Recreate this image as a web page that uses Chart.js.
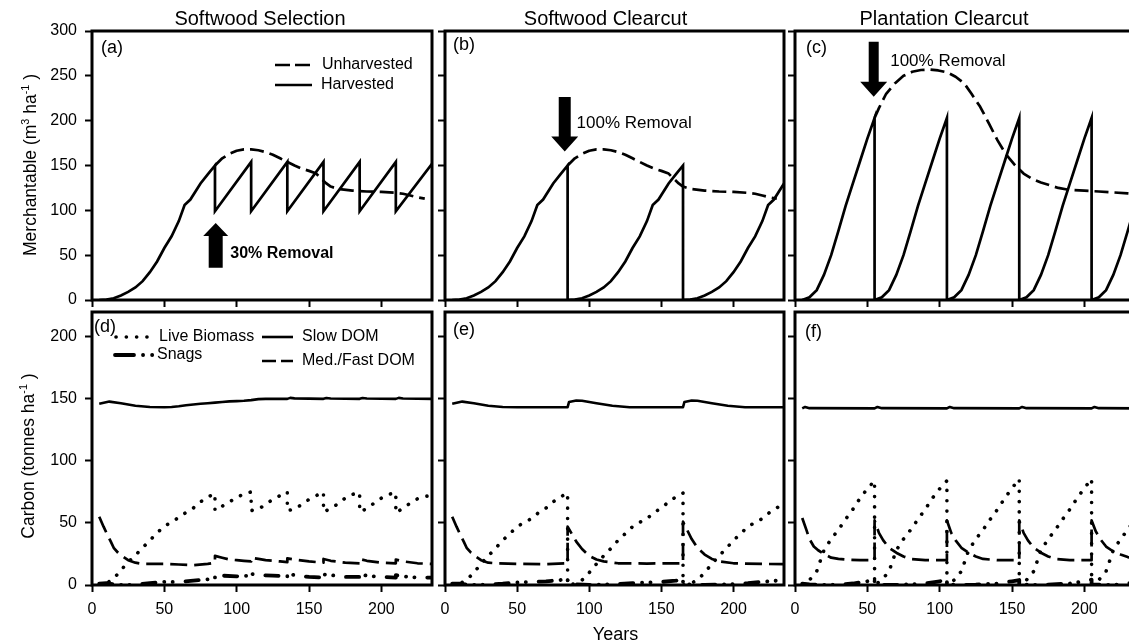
<!DOCTYPE html>
<html><head><meta charset="utf-8"><title>Merchantable volume and carbon by harvest scenario</title>
<script src="https://cdn.jsdelivr.net/npm/chart.js@4.4.0/dist/chart.umd.min.js"></script>
<style>
html,body{margin:0;padding:0;background:#fff;width:1129px;height:642px;overflow:hidden;}
#wrap{position:relative;width:1129px;height:642px;overflow:hidden;background:#fff;}
canvas{position:absolute;left:0;top:0;width:1140px;height:642px;}
</style></head><body><div id="wrap">
<canvas id="cA" width="1140" height="642"></canvas>
<canvas id="cB" width="1140" height="642"></canvas>
<canvas id="cC" width="1140" height="642"></canvas>
<canvas id="cD" width="1140" height="642"></canvas>
<canvas id="cE" width="1140" height="642"></canvas>
<canvas id="cF" width="1140" height="642"></canvas>
</div>
<script>
// ================= DATA =================
const panelTitles = ['Softwood Selection', 'Softwood Clearcut', 'Plantation Clearcut'];
const panelLetters = ['(a)', '(b)', '(c)', '(d)', '(e)', '(f)'];
const xTickYears = [0, 50, 100, 150, 200];
const topYTicks = [0, 50, 100, 150, 200, 250, 300];
const botYTicks = [0, 50, 100, 150, 200];
const yearMax = 235;
const topYMax = 300;
const botYMax = 220;

// --- (a) Softwood selection, merchantable volume ---
const selHarvYears = [5,10,15,20,25,30,35,40,45,50,55,60,64,68,75,80,85, 85,110, 110,135, 135,160, 160,185, 185,210, 210,235];
const selHarvVals  = [0,0.5,2,5,9,14,21,31,43,58,71,88,106,112,130,140,150, 99,154, 99,154, 99,154, 99,154, 99,154, 99,152];

// unharvested softwood (a, b)
const swUnhYears = [85,90,95,100,105,110,115,120,125,130,135,140,145,150,155,158,162,165,170,180,190,200,210,215,220,225,230];
const swUnhVals  = [150,158,163,166.5,168,168,167,165,162,158,154,150,146.5,144,141,136,130,126.5,124,122,121,120.5,119.5,118.5,116.5,114.5,113];

// --- (b) Softwood clearcut ---
const swCutYears = [5,10,15,20,25,30,35,40,45,50,55,60,64,68,75,80,85,
                    85,90,95,100,105,110,115,120,125,130,135,140,144,148,155,160,165,
                    165,170,175,180,185,190,195,200,205,210,215,220,224,228,235];
const swCutVals  = [0,0.5,2,5,9,14,21,31,43,58,71,88,106,112,130,140,150,
                    0,0.5,2,5,9,14,21,31,43,58,71,88,106,112,130,140,150,
                    0,0.5,2,5,9,14,21,31,43,58,71,88,106,112,130];

// --- (c) Plantation clearcut ---
const plCutYears = [5,10,15,20,25,30,35,40,45,50,55,
                    55,60,65,70,75,80,85,90,95,100,105,
                    105,110,115,120,125,130,135,140,145,150,155,
                    155,160,165,170,175,180,185,190,195,200,205,
                    205,210,215,220,225,230,235];
const plCutVals  = [0,3,11,28,50,77,105,130,155,180,203,
                    0,3,11,28,50,77,105,130,155,180,203,
                    0,3,11,28,50,77,105,130,155,180,203,
                    0,3,11,28,50,77,105,130,155,180,203,
                    0,3,11,28,50,77,105];
const plUnhYears = [55,58,63,69,75,81,87,93,99,105,111,117,122,128,134,140,146,152,158,164,170,176,182,189,200,210,220,230,235];
const plUnhVals  = [203,214,230,241.5,250,254.5,256.5,257,256,254,249,241.5,230,215.5,197,178,162,150.5,141,135,131,128,125,123,122,121,120,119,118.5];

// --- (d) Softwood selection, carbon ---
const selLiveYears = [5,10,15,20,25,30,35,40,45,50,55,60,65,70,75,80,85, 85,90,95,100,105,110, 110,115,120,125,130,135, 135,140,145,150,155,160, 160,165,170,175,180,185, 185,190,195,200,205,210, 210,215,220,225,230,235];
const selLiveVals  = [0,1.5,5,12,18.5,24,30,36,42,47.5,50.5,54.5,58.5,62,67,71,73.5, 60,63.5,67,70.5,73.5,75, 60,61,65,69,72,75, 60,61,65,69,72,75, 59,61.5,65.5,70,73,74.5, 59,61.5,66,70,73,74.5, 58,62,66,69.5,71.5,72];
const selSlowYears = [5,12,20,30,40,50,55,60,65,70,75,80,85,90,95,100,105,110,115,120,135,137,140,160,162,165,185,187,190,210,212,215,235];
const selSlowVals  = [146,147.8,146.5,144.5,143.5,143.2,143.5,144,144.8,145.5,146,146.5,147,147.5,148,148.2,148.5,149,149.8,150,150,150.8,150.4,150,150.7,150.3,150,150.7,150.3,150,150.8,150.3,150];
const selFastYears = [5,8,10,13,15,18,20,25,30,35,40,50,60,70,80,85, 85,90,95,100,105,110, 110,115,120,130,135, 135,140,150,160, 160,165,175,185, 185,190,200,210, 210,215,225,235];
const selFastVals  = [55,47,42,35,30,26,24,20,18,17,17,17,16.5,16,17,18, 23.5,22,20.5,20,19.5,19, 22,21,20,19,18.5, 21.5,20.5,19,18, 21,19.5,18,17.5, 21,19.5,18,17.5, 20.5,19,17.5,17];
const selSnagYears = [5,10,15,20,30,40,50,60,70,80,85, 85,90,100,110, 110,115,125,135, 135,140,150,160, 160,165,175,185, 185,190,200,210, 210,215,225,235];
const selSnagVals  = [1,1.5,0.5,0,0.3,1.5,2.5,2.5,3.5,4.5,5.5, 9,7.5,7,7.5, 9,8,7.5,7, 9,8,6.5,6, 8.5,8,6.5,6.5, 8.5,7.5,6.5,6, 8,7,6,6];

// --- (e) Softwood clearcut, carbon ---
const cfLiveYears = [5,10,15,20,25,30,35,40,45,50,55,60,65,70,75,80,85,
                     85,90,95,100,105,110,115,120,125,130,135,140,145,150,155,160,165,
                     165,170,175,180,185,190,195,200,205,210,215,220,225,230,235];
const cfLiveVals  = [0,1,4,10,17,23.5,29.5,36,41.5,47,50.5,53.5,58.5,62,67,71,74,
                     0,1,4,10,17,23.5,29.5,36,41.5,47,50.5,53.5,58.5,62,67,71,74,
                     0,1,4,10,17,23.5,29.5,36,41.5,47,50.5,53.5,58.5,62,67];
const cfSlowYears = [5,12,20,30,40,50,85, 86,91,95,105,116,128,165, 166,171,175,185,196,208,235];
const cfSlowVals  = [146,147.8,146.5,144.5,143.5,143.3,143.3, 147.5,148.7,148.5,146.5,144.4,143.3,143.3, 147.5,148.7,148.5,146.5,144.4,143.3,143.3];
const cfFastYears = [5,8,10,13,15,18,20,25,30,35,50,70,85, 85,88,91,95,100,105,110,120,140,165, 165,168,171,175,180,185,190,200,220,235];
const cfFastVals  = [55,47,42,35,30,26,24,20,18,17.5,17,16.8,17.5, 47,41,35,29,23.5,20.5,19,17.5,17.3,17.5, 51,44,37,30,24.5,21,19,17.5,17,16.8];
const cfSnagYears = [5,10,15,20,30,40,50,60,70,80,85, 85,90,100,110,120,130,140,150,160,165, 165,170,180,190,200,210,220,235];
const cfSnagVals  = [1,1,0.5,0,0.3,1,2,2.5,3,4,5, 1,0.5,0,0.3,0.8,1.5,2,2.5,3.5,4.5, 1,0.5,0,0.3,0.8,1.5,2.5,4];

// --- (f) Plantation clearcut, carbon ---
const plLiveYears = [5,10,15,20,25,30,35,40,45,50,55,
                     55,60,65,70,75,80,85,90,95,100,105,
                     105,110,115,120,125,130,135,140,145,150,155,
                     155,160,165,170,175,180,185,190,195,200,205,
                     205,210,215,220,225,230,235];
const plLiveVals  = [0,4,11,28,37,44.5,53,61,70,77.5,84,
                     0,4,11,28,37,44.5,53,61,70,77.5,84,
                     0,4,11,28,37,44.5,53,61,70,78,85.5,
                     0,4,11,28,37,44.5,53,61,70,78,85.5,
                     0,4,11,28,37,44.5,53];
const plSlowYears = [5,7,10,55,57,60,105,107,110,155,157,160,205,207,210,235];
const plSlowVals  = [142.3,143.5,142.5,142.3,143.5,142.5,142.3,143.5,142.5,142.3,143.5,142.5,142.3,143.5,142.5,142.3];
const plFastYears = [5,8,10,13,16,20,25,30,35,45,55, 55,58,61,65,70,75,80,90,105, 105,108,111,115,120,125,130,140,155, 155,158,161,165,170,175,180,190,205, 205,208,211,215,220,225,230,235];
const plFastVals  = [54,44,37,31,28,25,22,21,20.5,20,20, 52,42,36,30,26,23,21,20,20, 52,42,36,30,26,23,21,20,20, 52,42,36,30,26,23,21,20,20, 52,43,37,31,27,24.5,22.5,21.5];
const plSnagYears = [5,10,20,30,40,50,55, 55,65,75,90,100,105, 105,115,125,140,150,155, 155,165,175,190,200,205, 205,215,225,235];
const plSnagVals  = [1,0.5,0,0.3,1.2,3,4, 0.5,0,0.3,1.2,3,4, 0.5,0,0.3,1.2,3,4, 0.5,0,0.3,1.2,3,4.3, 0.5,0,0.5,2];

// annotations (data units): harvest arrow year, tip value, tail value; label year & value
const arrowYears = [85.5, 83, 54.4];
const arrowTips  = [86, 165.5, 226.7];
const arrowTails = [36, 226.5, 288];
const removalTexts = ['30% Removal', '100% Removal', '100% Removal'];
const removalTextYears = [95.6, 91.2, 65.8];
const removalTextVals  = [52, 197, 265.8];

// ================= STYLE / LAYOUT =================
const FONT = "'Liberation Sans', Arial, Helvetica, sans-serif";
const ST = {
  solid:    {w: 2.7, dash: [], cap: 'butt', join: 'miter'},
  dashTop:  {w: 2.7, dash: [14, 6], cap: 'butt', join: 'round'},
  dotted:   {w: 3.6, dash: [0.1, 10.2], cap: 'round', join: 'round'},
  longDash: {w: 2.7, dash: [17, 7], cap: 'butt', join: 'round'},
  dashDot:  {w: 3.8, dash: [13.2, 8.8, 0.1, 8.3, 0.1, 12.8], cap: 'round', join: 'round'},
  solidC:   {w: 2.6, dash: [], cap: 'butt', join: 'round'}
};
const CW = 1140, CH = 642, XH = 50;
const AREAS = {
  A: {left: 92, top: 31, right: 432, bottom: 300},
  B: {left: 445, top: 31, right: 784, bottom: 300},
  C: {left: 795, top: 31, right: 1135, bottom: 300},
  D: {left: 92, top: 312, right: 432, bottom: 585},
  E: {left: 445, top: 312, right: 784, bottom: 585},
  F: {left: 795, top: 312, right: 1135, bottom: 585}
};

function pts(xs, ys) { return xs.map((x, i) => ({x: x, y: ys[i]})); }
function ds(xs, ys, s) {
  return {data: pts(xs, ys), borderColor: '#000', backgroundColor: '#000', borderWidth: s.w,
          borderDash: s.dash, borderCapStyle: s.cap, borderJoinStyle: s.join,
          pointRadius: 0, fill: false, tension: 0};
}
function applyStyle(ctx, s) {
  ctx.strokeStyle = '#000'; ctx.lineWidth = s.w; ctx.setLineDash(s.dash);
  ctx.lineCap = s.cap; ctx.lineJoin = s.join;
}
function vText(ctx, cx, cy, parts, size) {
  ctx.save(); ctx.translate(cx, cy); ctx.rotate(-Math.PI / 2);
  const sup = size * 0.62; let total = 0;
  parts.forEach(p => { ctx.font = (p.sup ? sup : size) + 'px ' + FONT; p.w = ctx.measureText(p.t).width; total += p.w; });
  let x = -total / 2; const base = size * 0.358;
  ctx.textAlign = 'left'; ctx.textBaseline = 'alphabetic'; ctx.fillStyle = '#000';
  parts.forEach(p => { ctx.font = (p.sup ? sup : size) + 'px ' + FONT; ctx.fillText(p.t, x, p.sup ? base - size * 0.42 : base); x += p.w; });
  ctx.restore();
}
function drawArrow(ctx, xs, ys, i, g) {
  const cx = xs.getPixelForValue(arrowYears[i]);
  const tip = ys.getPixelForValue(arrowTips[i]);
  const tail = ys.getPixelForValue(arrowTails[i]);
  const dir = Math.sign(tip - tail);
  const base = tip - dir * g.head;
  ctx.save(); ctx.fillStyle = '#000'; ctx.beginPath();
  ctx.moveTo(cx - g.sw / 2, tail); ctx.lineTo(cx + g.sw / 2, tail);
  ctx.lineTo(cx + g.sw / 2, base); ctx.lineTo(cx + g.hw / 2, base);
  ctx.lineTo(cx, tip); ctx.lineTo(cx - g.hw / 2, base);
  ctx.lineTo(cx - g.sw / 2, base); ctx.closePath(); ctx.fill();
  ctx.font = g.bold ? 'bold 16px ' + FONT : '17px ' + FONT;
  ctx.textAlign = 'left'; ctx.textBaseline = 'middle';
  ctx.fillText(removalTexts[i], xs.getPixelForValue(removalTextYears[i]), ys.getPixelForValue(removalTextVals[i]));
  ctx.restore();
}

function makeDeco(spec) {
  return {
    id: 'deco' + spec.key,
    afterDraw(chart) {
      const ctx = chart.ctx, a = chart.chartArea, xs = chart.scales.x, ys = chart.scales.y;
      ctx.save();
      ctx.strokeStyle = '#000'; ctx.lineWidth = 3; ctx.setLineDash([]);
      ctx.strokeRect(a.left, a.top, a.right - a.left, a.bottom - a.top);
      ctx.fillStyle = '#000';
      if (spec.title) {
        ctx.font = '20px ' + FONT; ctx.textAlign = 'center'; ctx.textBaseline = 'alphabetic';
        ctx.fillText(spec.title, (a.left + a.right) / 2 + spec.titleShift, 25);
      }
      ctx.font = '18px ' + FONT; ctx.textAlign = 'left'; ctx.textBaseline = 'middle';
      ctx.fillText(spec.letter, a.left + spec.letterDx, a.top + spec.letterDy);
      if (spec.yTitle) vText(ctx, spec.yTitle.cx, spec.yTitle.cy, spec.yTitle.parts, 17.5);
      (spec.legend || []).forEach(e => {
        ctx.save(); applyStyle(ctx, e.s);
        if (e.dashOverride) ctx.setLineDash(e.dashOverride);
        ctx.beginPath(); ctx.moveTo(a.left + e.x0, a.top + e.y); ctx.lineTo(a.left + e.x1, a.top + e.y); ctx.stroke();
        ctx.restore();
        ctx.font = '16px ' + FONT; ctx.textAlign = 'left'; ctx.textBaseline = 'middle'; ctx.fillStyle = '#000';
        ctx.fillText(e.label, a.left + e.tx, a.top + e.y);
      });
      if (spec.arrow) drawArrow(ctx, xs, ys, spec.arrow.i, spec.arrow);
      if (spec.xTitle) {
        ctx.font = '18px ' + FONT; ctx.textAlign = 'center'; ctx.textBaseline = 'alphabetic';
        ctx.fillText(spec.xTitle, (a.left + a.right) / 2 + 1, 640);
      }
      ctx.restore();
    }
  };
}

function makeChart(id, area, yMax, yTicks, showY, showX, datasets, spec) {
  const YW = showY ? area.left : 20;
  const gridOpt = {drawOnChartArea: false, drawTicks: true, tickLength: 7, tickWidth: 2, tickColor: '#000', color: '#000'};
  return new Chart(document.getElementById(id), {
    type: 'line',
    data: {datasets: datasets},
    options: {
      responsive: false, maintainAspectRatio: false, animation: false, devicePixelRatio: 1, events: [],
      layout: {padding: {left: area.left - YW, right: CW - area.right, top: area.top, bottom: CH - XH - area.bottom}},
      plugins: {legend: {display: false}, tooltip: {enabled: false}, title: {display: false}},
      scales: {
        x: {type: 'linear', min: 0, max: yearMax,
            afterFit: s => { s.height = XH; },
            afterBuildTicks: s => { s.ticks = xTickYears.map(v => ({value: v})); },
            grid: gridOpt, border: {display: false},
            ticks: {display: showX, color: '#000', font: {family: FONT, size: 16}, padding: 8, maxRotation: 0, autoSkip: false}},
        y: {type: 'linear', min: 0, max: yMax,
            afterFit: s => { s.width = YW; },
            afterBuildTicks: s => { s.ticks = yTicks.map(v => ({value: v})); },
            grid: gridOpt, border: {display: false},
            ticks: {display: showY, color: '#000', font: {family: FONT, size: 16}, padding: 8, autoSkip: false}}
      }
    },
    plugins: [makeDeco(spec)]
  });
}

const merchParts = [{t: 'Merchantable (m'}, {t: '3', sup: true}, {t: ' ha'}, {t: '-1', sup: true}, {t: ' )'}];
const carbonParts = [{t: 'Carbon (tonnes ha'}, {t: '-1', sup: true}, {t: ' )'}];

makeChart('cA', AREAS.A, topYMax, topYTicks, true, false,
  [ds(swUnhYears, swUnhVals, ST.dashTop), ds(selHarvYears, selHarvVals, ST.solid)],
  {key: 'A', title: panelTitles[0], titleShift: -2, letter: panelLetters[0], letterDx: 9, letterDy: 17,
   yTitle: {cx: 30, cy: 165, parts: merchParts},
   legend: [{label: 'Unharvested', s: ST.dashTop, x0: 183, x1: 220, y: 34, tx: 230, dashOverride: [15, 5]},
            {label: 'Harvested', s: ST.solid, x0: 183, x1: 220, y: 54, tx: 229}],
   arrow: {i: 0, head: 13, hw: 25, sw: 14, bold: true}});

makeChart('cB', AREAS.B, topYMax, topYTicks, false, false,
  [ds(swUnhYears, swUnhVals, ST.dashTop), ds(swCutYears, swCutVals, ST.solid)],
  {key: 'B', title: panelTitles[1], titleShift: -9, letter: panelLetters[1], letterDx: 8, letterDy: 14,
   arrow: {i: 1, head: 15, hw: 27, sw: 12, bold: false}});

makeChart('cC', AREAS.C, topYMax, topYTicks, false, false,
  [ds(plUnhYears, plUnhVals, ST.dashTop), ds(plCutYears, plCutVals, ST.solid)],
  {key: 'C', title: panelTitles[2], titleShift: -21, letter: panelLetters[2], letterDx: 11, letterDy: 17,
   arrow: {i: 2, head: 15, hw: 27, sw: 10, bold: false}});

makeChart('cD', AREAS.D, botYMax, botYTicks, true, true,
  [ds(selSlowYears, selSlowVals, ST.solidC), ds(selFastYears, selFastVals, ST.longDash),
   ds(selSnagYears, selSnagVals, ST.dashDot), ds(selLiveYears, selLiveVals, ST.dotted)],
  {key: 'D', letter: panelLetters[3], letterDx: 2, letterDy: 15.5,
   yTitle: {cx: 28, cy: 456, parts: carbonParts},
   legend: [{label: 'Live Biomass', s: ST.dotted, x0: 24, x1: 56, y: 25, tx: 67},
            {label: 'Snags', s: ST.dashDot, x0: 23, x1: 62, y: 43, tx: 65, dashOverride: [19, 9, 0.1, 9, 0.1, 100]},
            {label: 'Slow DOM', s: ST.solidC, x0: 170, x1: 201, y: 25, tx: 210},
            {label: 'Med./Fast DOM', s: ST.longDash, x0: 170, x1: 201, y: 49, tx: 210, dashOverride: [14, 5]}]});

makeChart('cE', AREAS.E, botYMax, botYTicks, false, true,
  [ds(cfSlowYears, cfSlowVals, ST.solidC), ds(cfFastYears, cfFastVals, ST.longDash),
   ds(cfSnagYears, cfSnagVals, ST.dashDot), ds(cfLiveYears, cfLiveVals, ST.dotted)],
  {key: 'E', letter: panelLetters[4], letterDx: 8, letterDy: 18, xTitle: 'Years'});

makeChart('cF', AREAS.F, botYMax, botYTicks, false, true,
  [ds(plSlowYears, plSlowVals, ST.solidC), ds(plFastYears, plFastVals, ST.longDash),
   ds(plSnagYears, plSnagVals, ST.dashDot), ds(plLiveYears, plLiveVals, ST.dotted)],
  {key: 'F', letter: panelLetters[5], letterDx: 10, letterDy: 20});
</script></body></html>
